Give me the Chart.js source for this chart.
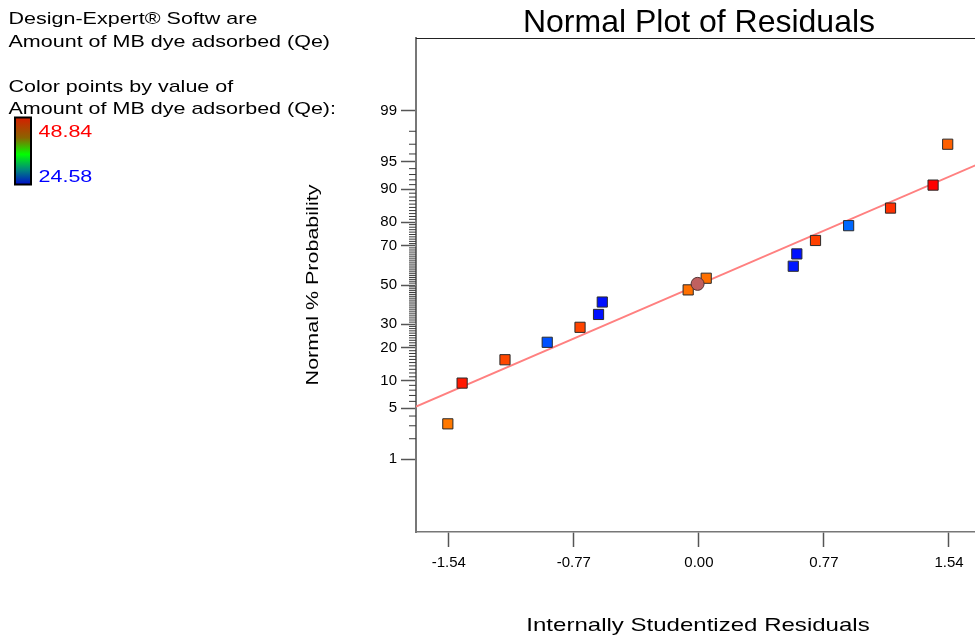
<!DOCTYPE html>
<html><head><meta charset="utf-8">
<script src="https://cdn.jsdelivr.net/npm/chart.js@4.4.1/dist/chart.umd.min.js"></script>
<style>
html,body{margin:0;padding:0;background:#fff;overflow:hidden;width:975px;height:640px;}
canvas{display:block;}
</style></head><body>
<canvas id="c" width="990" height="640" style="width:990px;height:640px"></canvas>
<script>
// ---- text ----
const infoLines = ["Design-Expert\u00AE Softw are", "Amount of MB dye adsorbed (Qe)", "", "Color points by value of", "Amount of MB dye adsorbed (Qe):"];
const chartTitle = "Normal Plot of Residuals";
const xAxisTitle = "Internally Studentized Residuals";
const yAxisTitle = "Normal % Probability";
const colorMaxLabel = "48.84";
const colorMinLabel = "24.58";

// ---- ticks ----
const xTickValues = [-1.54, -0.77, 0.00, 0.77, 1.54];
const yTickPercents = [1, 5, 10, 20, 30, 50, 70, 80, 90, 95, 99];
const xRange = [-1.742, 1.742];
const zRange = [-3.30, 3.30];

// ---- data ----
const residuals     = [-1.546, -1.458, -1.194, -0.934, -0.732, -0.618, -0.595, -0.066, 0.045, 0.581, 0.603, 0.718, 0.922, 1.180, 1.442, 1.532];
const probabilities = [3.18, 9.5, 15.9, 22.2, 28.6, 34.7, 41.0, 47.4, 53.6, 59.9, 66.1, 72.4, 78.6, 84.8, 90.9, 97.0];
const pointColors   = ['#ff7800', '#ff1800', '#ff4800', '#0050ff', '#ff4400', '#0010ff', '#0010ff', '#ff7000', '#ff7000', '#0018ff', '#0010ff', '#ff4000', '#0068ff', '#ff3000', '#ff0000', '#ff6000'];
const centerResidual = [-0.008];
const centerProbability = [50.6];
const fitLineX = [-1.742, 1.742];
const fitLineProbability = [5.2, 94.9];

// inverse standard normal CDF (Acklam) -> probit axis transform
function probit(p) {
  const a = [-3.969683028665376e+01, 2.209460984245205e+02, -2.759285104469687e+02, 1.383577518672690e+02, -3.066479806614716e+01, 2.506628277459239e+00];
  const b = [-5.447609879822406e+01, 1.615858368580409e+02, -1.556989798598866e+02, 6.680131188771972e+01, -1.328068155288572e+01];
  const c = [-7.784894002430293e-03, -3.223964580411365e-01, -2.400758277161838e+00, -2.549732539343734e+00, 4.374664141464968e+00, 2.938163982698783e+00];
  const d = [7.784695709041462e-03, 3.224671290700398e-01, 2.445134137142996e+00, 3.754408661907416e+00];
  const pl = 0.02425, ph = 1 - pl;
  let q, r;
  if (p < pl) { q = Math.sqrt(-2 * Math.log(p)); return (((((c[0]*q+c[1])*q+c[2])*q+c[3])*q+c[4])*q+c[5]) / ((((d[0]*q+d[1])*q+d[2])*q+d[3])*q+1); }
  if (p <= ph) { q = p - 0.5; r = q*q; return (((((a[0]*r+a[1])*r+a[2])*r+a[3])*r+a[4])*r+a[5])*q / (((((b[0]*r+b[1])*r+b[2])*r+b[3])*r+b[4])*r+1); }
  q = Math.sqrt(-2 * Math.log(1 - p)); return -(((((c[0]*q+c[1])*q+c[2])*q+c[3])*q+c[4])*q+c[5]) / ((((d[0]*q+d[1])*q+d[2])*q+d[3])*q+1);
}
const pz = v => probit(v / 100);

const minorPercents = [];
for (let i = 2; i <= 98; i++) if (!yTickPercents.includes(i)) minorPercents.push(i);

// optional horizontal widening of text, as in the original rendering
const canvas = document.getElementById('c');
const ctx0 = canvas.getContext('2d');
const nativeFill = CanvasRenderingContext2D.prototype.fillText;
ctx0._sx = 1;
ctx0.fillText = function (t, x, y, mw) {
  const sx = this._sx || 1;
  this.save(); this.translate(x, y); this.scale(sx, 1);
  if (mw !== undefined && mw !== null) nativeFill.call(this, t, 0, 0, mw / sx); else nativeFill.call(this, t, 0, 0);
  this.restore();
};

const FONT = "'Liberation Sans', Arial, sans-serif";
const WIDE = 1.265;

const decor = {
  id: 'decor',
  afterDraw(chart) {
    const ctx = chart.ctx, ca = chart.chartArea, ys = chart.scales.y;
    ctx.save();
    // minor probability ticks
    ctx.strokeStyle = '#3a3a3a'; ctx.lineWidth = 1;
    minorPercents.forEach(p => {
      const y = ys.getPixelForValue(pz(p));
      ctx.beginPath(); ctx.moveTo(ca.left - 7, y); ctx.lineTo(ca.left, y); ctx.stroke();
    });
    // top / right frame
    ctx.strokeStyle = '#222'; ctx.lineWidth = 1;
    ctx.beginPath(); ctx.moveTo(ca.left, ca.top + 0.5); ctx.lineTo(ca.right, ca.top + 0.5); ctx.lineTo(ca.right, ca.bottom); ctx.stroke();
    // main title (normal width)
    ctx.fillStyle = '#000';
    ctx._sx = 1;
    ctx.textAlign = 'center'; ctx.textBaseline = 'alphabetic';
    ctx.font = "32px " + FONT;
    ctx.fillText(chartTitle, 699, 32);
    // axis titles (widened)
    ctx._sx = WIDE;
    ctx.font = "19px " + FONT; ctx.textBaseline = 'middle';
    ctx.fillText(xAxisTitle, 698, 626);
    ctx.save(); ctx.translate(313, (ca.top + ca.bottom) / 2); ctx.rotate(-Math.PI / 2);
    ctx.font = "17px " + FONT; ctx.fillText(yAxisTitle, 0, 0); ctx.restore();
    // info text
    ctx.textAlign = 'left'; ctx.textBaseline = 'alphabetic'; ctx.font = "17px " + FONT;
    const baselines = [24, 46.7, 69, 91.7, 114];
    infoLines.forEach((t, i) => { if (t) ctx.fillText(t, 8.5, baselines[i]); });
    // colour bar
    const g = ctx.createLinearGradient(0, 118, 0, 184);
    g.addColorStop(0, '#d42000'); g.addColorStop(0.3, '#8a6400'); g.addColorStop(0.55, '#00ff00');
    g.addColorStop(0.78, '#008a7a'); g.addColorStop(1, '#0010c8');
    ctx.fillStyle = g; ctx.fillRect(15, 117.5, 16, 67);
    ctx.strokeStyle = '#000'; ctx.lineWidth = 2; ctx.strokeRect(15, 117.5, 16, 67);
    ctx.fillStyle = '#ff0000'; ctx.fillText(colorMaxLabel, 38.5, 137.3);
    ctx.fillStyle = '#0000ff'; ctx.fillText(colorMinLabel, 38.5, 181.7);
    ctx._sx = 1;
    ctx.restore();
  }
};

new Chart(ctx0, {
  type: 'scatter',
  data: {
    datasets: [
      { label: 'fit', data: fitLineX.map((x, i) => ({ x, y: pz(fitLineProbability[i]) })), showLine: true,
        borderColor: '#ff8080', borderWidth: 2, pointRadius: 0, order: 3 },
      { label: 'residuals', data: residuals.map((x, i) => ({ x, y: pz(probabilities[i]) })),
        pointStyle: 'rect', pointRadius: 7.2, backgroundColor: pointColors, borderColor: '#2a2a2a', borderWidth: 1, order: 1 },
      { label: 'center', data: centerResidual.map((x, i) => ({ x, y: pz(centerProbability[i]) })),
        pointStyle: 'circle', pointRadius: 6.5, backgroundColor: '#c06060', borderColor: '#553333', borderWidth: 1, order: 0 }
    ]
  },
  options: {
    responsive: false, animation: false, devicePixelRatio: 1,
    layout: { padding: { left: 0, top: 38, right: 6, bottom: 0 } },
    plugins: { legend: { display: false }, tooltip: { enabled: false }, title: { display: false } },
    scales: {
      x: {
        type: 'linear', min: xRange[0], max: xRange[1],
        afterFit: s => { s.height = 108; },
        afterBuildTicks: s => { s.ticks = xTickValues.map(v => ({ value: v })); },
        ticks: { callback: v => Number(v).toFixed(2), color: '#000', font: { family: FONT, size: 15 }, padding: 7, maxRotation: 0, autoSkip: false },
        grid: { drawOnChartArea: false, drawTicks: true, tickLength: 15, tickColor: '#555', tickWidth: 1.5 },
        border: { color: '#777', width: 1.5 }
      },
      y: {
        type: 'linear', min: zRange[0], max: zRange[1],
        afterFit: s => { s.width = 416; },
        afterBuildTicks: s => { s.ticks = yTickPercents.map(p => ({ value: pz(p), label: String(p) })); },
        ticks: { callback: (v, i) => String(yTickPercents[i]), color: '#000', font: { family: FONT, size: 15 }, padding: 4, autoSkip: false },
        grid: { drawOnChartArea: false, drawTicks: true, tickLength: 15, tickColor: '#555', tickWidth: 1.5 },
        border: { color: '#777', width: 2 }
      }
    }
  },
  plugins: [decor]
});
</script>
</body></html>
